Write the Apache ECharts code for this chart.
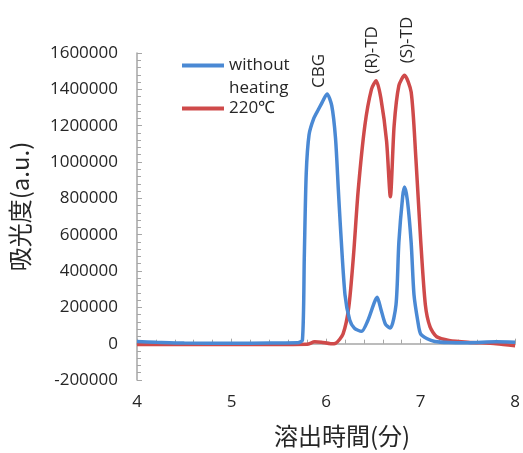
<!DOCTYPE html>
<html><head><meta charset="utf-8">
<script src="https://cdn.jsdelivr.net/npm/echarts@6/dist/echarts.min.js"></script>
<style>html,body{margin:0;padding:0;background:#fff}#c{width:523px;height:453px}</style>
</head><body><div id="c"></div>
<script>
// ---- data ----
const seriesNames = ['without heating', '220℃'];
const timeBlue = [4.00,4.20,4.50,5.00,5.40,5.70,5.75,5.77,5.79,5.82,5.87,5.92,5.96,6.01,6.06,6.10,6.13,6.15,6.20,6.25,6.30,6.375,6.44,6.51,6.54,6.58,6.63,6.68,6.74,6.77,6.81,6.83,6.86,6.90,6.93,6.97,7.00,7.07,7.15,7.30,7.50,7.80,8.00];
const absBlue  = [12000,8000,3000,2000,4000,5000,20000,485000,935000,1150000,1240000,1290000,1330000,1375000,1310000,1130000,845000,660000,270000,130000,85000,68000,125000,226000,255000,190000,105000,86000,215000,557000,809000,862000,790000,557000,270000,125000,54000,27000,12000,6000,5000,10000,8000];
const timeRed = [4.00,4.50,5.00,5.50,5.80,5.88,5.95,6.05,6.10,6.18,6.24,6.29,6.34,6.41,6.48,6.53,6.58,6.64,6.68,6.72,6.77,6.83,6.90,6.95,7.00,7.05,7.10,7.17,7.30,7.50,7.80,8.00];
const absRed  = [-4000,-5000,-5000,-4000,-3000,10000,8000,0,2000,54000,200000,485000,845000,1200000,1400000,1447000,1350000,1115000,809000,1200000,1420000,1477000,1385000,1020000,576000,215000,92000,38000,18000,8000,0,-12000];
const peakLabels = ['CBG', '(R)-TD', '(S)-TD'];
const xName = '溶出時間(分)';
const yName = '吸光度(a.u.)';

const pair = (xs, ys) => xs.map((x, i) => [x, ys[i]]);
const txt = '#262626';
const axisCol = '#a6a6a6';
const blue = '#4a89d4', red = '#cf4a4a';
const legendText = { fontFamily: 'Open Sans', fontSize: 17, color: txt };
const peakStyle = t => ({ text: t, fontFamily: 'Open Sans', fontSize: 17, fill: txt, align: 'center', verticalAlign: 'middle' });
const chart = echarts.init(document.getElementById('c'));
chart.setOption({
  animation: false,
  backgroundColor: '#fff',
  grid: { left: 132, right: 7, top: 53, bottom: 66 },
  legend: [
    { data: [seriesNames[0]], left: 177, top: 52, itemWidth: 42, itemHeight: 4, icon: 'rect',
      formatter: n => n.split(' ')[0], textStyle: legendText },
    { data: [seriesNames[1]], left: 177, top: 95, itemWidth: 42, itemHeight: 4, icon: 'rect',
      textStyle: legendText }
  ],
  xAxis: {
    type: 'value', min: 4, max: 8, interval: 1,
    name: xName, nameLocation: 'middle', nameGap: 44,
    nameTextStyle: { fontFamily: 'Noto Sans CJK JP', fontSize: 24, color: txt, padding: [0, 0, 0, 32] },
    axisLine: { show: true, lineStyle: { color: axisCol, width: 1.5 } },
    axisTick: { show: true, inside: true, length: 5, lineStyle: { color: axisCol } },
    minorTick: { show: true, splitNumber: 5, length: 4, lineStyle: { color: axisCol } },
    splitLine: { show: false },
    axisLabel: { fontFamily: 'Open Sans', fontSize: 17, color: txt, margin: 14 }
  },
  yAxis: {
    type: 'value', min: -200000, max: 1600000, interval: 200000,
    name: yName, nameLocation: 'middle', nameGap: 105,
    nameTextStyle: { fontFamily: 'Noto Sans CJK JP', fontSize: 24, color: txt, padding: [0, 0, 0, 20] },
    axisLine: { show: true, lineStyle: { color: axisCol, width: 1.5 } },
    axisTick: { show: true, inside: true, length: 5, lineStyle: { color: axisCol } },
    minorTick: { show: true, splitNumber: 5, length: 4, lineStyle: { color: axisCol } },
    splitLine: { show: false },
    axisLabel: { fontFamily: 'Open Sans', fontSize: 17, color: txt, margin: 19, formatter: v => String(v) }
  },
  series: [
    { name: seriesNames[0], type: 'line', data: pair(timeBlue, absBlue), smooth: 0.25, showSymbol: false,
      lineStyle: { color: blue, width: 3.5 }, itemStyle: { color: blue }, z: 3 },
    { name: seriesNames[1], type: 'line', data: pair(timeRed, absRed), smooth: 0.25, showSymbol: false,
      lineStyle: { color: red, width: 3.5 }, itemStyle: { color: red }, z: 2 }
  ],
  graphic: [
    { type: 'text', x: 229, y: 88, style: { text: seriesNames[0].split(' ')[1], fontFamily: 'Open Sans', fontSize: 17, fill: txt, verticalAlign: 'middle' } },
    { type: 'text', x: 319, y: 71, rotation: Math.PI / 2, style: peakStyle(peakLabels[0]) },
    { type: 'text', x: 372, y: 50, rotation: Math.PI / 2, style: peakStyle(peakLabels[1]) },
    { type: 'text', x: 407, y: 40, rotation: Math.PI / 2, style: peakStyle(peakLabels[2]) }
  ]
});
</script></body></html>
